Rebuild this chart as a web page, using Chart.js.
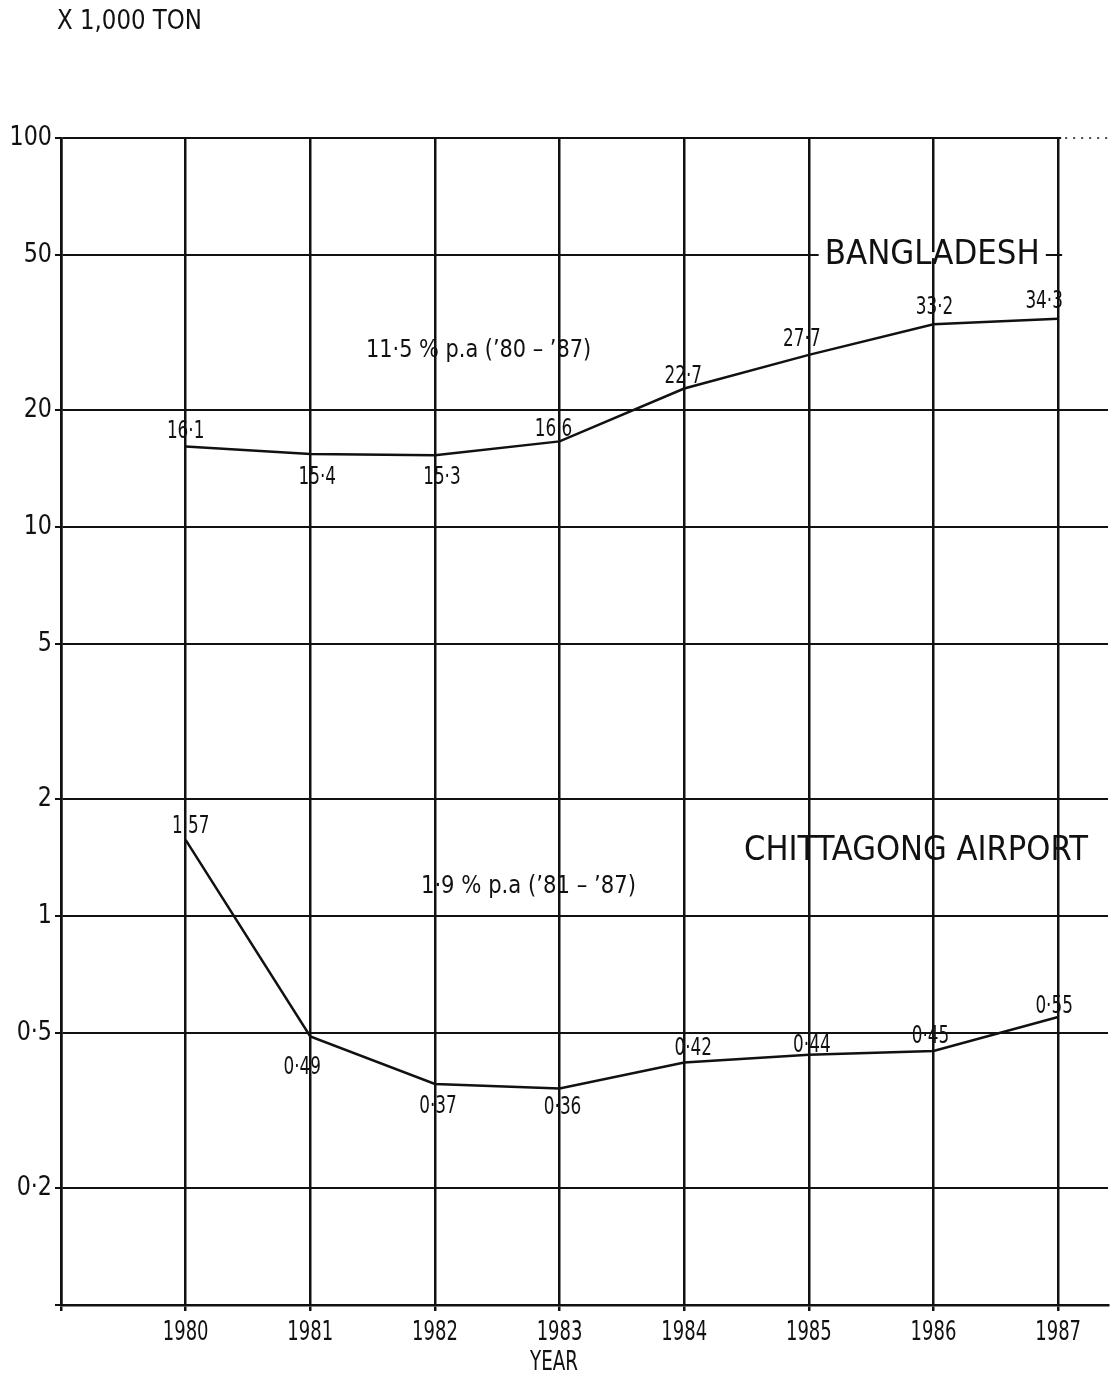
<!DOCTYPE html>
<html>
<head>
<meta charset="utf-8">
<script src="https://cdn.jsdelivr.net/npm/chart.js@4.4.1/dist/chart.umd.min.js"></script>
<style>
  html, body { margin: 0; padding: 0; background: #fff; }
  canvas { display: block; }
</style>
</head>
<body>
<canvas id="c" width="1110" height="1389"></canvas>
<script>
// Air cargo volume, thousand tons
const years = [1980, 1981, 1982, 1983, 1984, 1985, 1986, 1987];
const bangladesh = [16.1, 15.4, 15.3, 16.6, 22.7, 27.7, 33.2, 34.3];
const chittagong = [1.57, 0.49, 0.37, 0.36, 0.42, 0.44, 0.45, 0.55];
const yTicks = [0.1, 0.2, 0.5, 1, 2, 5, 10, 20, 50, 100];
const xTicks = [1979, 1980, 1981, 1982, 1983, 1984, 1985, 1986, 1987];

const FONT = '"DejaVu Sans Condensed", "Liberation Sans Narrow", "DejaVu Sans", sans-serif';
const INK = '#111';

// pixel nudges for each value label (dx, dy from its point)
const labelNudge = [
  [[0, -15], [7, 24], [7, 23], [-6, -12], [-1, -12], [-7, -15], [1, -17], [-14, -17]],
  [[5, -13], [-8, 31], [3, 23], [3, 19], [9, -14], [3, -9], [-3, -14], [-4, -10]]
];

// free text notes placed in data coordinates
const notes = [
  { text: 'BANGLADESH', x: 1985.99, y: 50, size: 34, width: 215, bg: true },
  { text: '11·5 % p.a (\u201980 \u2013 \u201987)', x: 1982.35, y: 28.5, size: 25, width: 225 },
  { text: 'CHITTAGONG AIRPORT', x: 1985.86, y: 1.47, size: 34, width: 344 },
  { text: '1·9 % p.a (\u201981 \u2013 \u201987)', x: 1982.75, y: 1.19, size: 25, width: 215 }
];

const fmt = v => String(v).replace('.', '·');

// draws text with an optional fixed width (or horizontal squeeze factor)
function drawText(ctx, text, x, y, o) {
  ctx.save();
  ctx.font = o.size + 'px ' + FONT;
  const w = ctx.measureText(text).width;
  const sx = o.width ? o.width / w : (o.sx || 1);
  ctx.translate(x, y);
  ctx.scale(sx, 1);
  const align = o.align || 'center';
  const left = align === 'left' ? 0 : align === 'right' ? -w : -w / 2;
  if (o.bg) {
    ctx.fillStyle = '#fff';
    ctx.fillRect(left - 6, -3, w + 12, 6);
  }
  ctx.fillStyle = INK;
  ctx.textAlign = align;
  ctx.textBaseline = 'middle';
  ctx.fillText(text, 0, 0);
  ctx.restore();
}

const textLayer = {
  id: 'textLayer',
  afterDraw(chart) {
    const ctx = chart.ctx;
    const xs = chart.scales.x, ys = chart.scales.y;
    const area = chart.chartArea;

    // top rule turns dotted past the last year
    const yTop = ys.getPixelForValue(100);
    const xEnd = xs.getPixelForValue(1987) + 3;
    ctx.save();
    ctx.fillStyle = '#fff';
    ctx.fillRect(xEnd, yTop - 2, area.right - xEnd + 4, 4);
    ctx.strokeStyle = INK;
    ctx.lineWidth = 1.5;
    ctx.setLineDash([2, 6]);
    ctx.beginPath();
    ctx.moveTo(xEnd + 4, yTop);
    ctx.lineTo(area.right + 2, yTop);
    ctx.stroke();
    // the 50 line stops at the last year
    const y50 = ys.getPixelForValue(50);
    ctx.fillRect(xEnd + 1, y50 - 2, area.right - xEnd + 4, 4);
    ctx.restore();

    // axis tick labels
    xs.ticks.forEach(t => {
      if (t.value < 1980) return;
      drawText(ctx, String(t.value), xs.getPixelForValue(t.value), area.bottom + 28, { size: 26, sx: 0.77 });
    });
    ys.ticks.forEach(t => {
      if (t.value === 0.1) return;
      drawText(ctx, fmt(t.value), area.left - 9, ys.getPixelForValue(t.value), { size: 26, sx: 0.95, align: 'right' });
    });

    // value labels
    chart.data.datasets.forEach((ds, di) => {
      const meta = chart.getDatasetMeta(di);
      meta.data.forEach((pt, i) => {
        const [dx, dy] = labelNudge[di][i];
        drawText(ctx, fmt(ds.data[i].y), pt.x + dx, pt.y + dy, { size: 24, sx: 0.78 });
      });
    });

    notes.forEach(n => {
      drawText(ctx, n.text, xs.getPixelForValue(n.x), ys.getPixelForValue(n.y), n);
    });

    drawText(ctx, 'X 1,000 TON', 57, 22, { size: 26, width: 145, align: 'left' });
    drawText(ctx, 'YEAR', 554, 1363, { size: 26, width: 48 });
  }
};

new Chart(document.getElementById('c'), {
  type: 'line',
  data: {
    datasets: [
      {
        label: 'BANGLADESH',
        data: years.map((x, i) => ({ x, y: bangladesh[i] })),
        borderColor: INK, borderWidth: 2.5, pointRadius: 0, tension: 0, fill: false
      },
      {
        label: 'CHITTAGONG AIRPORT',
        data: years.map((x, i) => ({ x, y: chittagong[i] })),
        borderColor: INK, borderWidth: 2.5, pointRadius: 0, tension: 0, fill: false
      }
    ]
  },
  options: {
    responsive: false,
    animation: false,
    devicePixelRatio: 1,
    layout: { padding: { top: 138, right: 2, left: 0, bottom: 0 } },
    plugins: { legend: { display: false }, tooltip: { enabled: false } },
    scales: {
      x: {
        type: 'linear', min: 1979, max: 1987.4,
        afterBuildTicks: s => { s.ticks = xTicks.map(v => ({ value: v })); },
        afterFit: s => { s.height = 84; },
        ticks: {
          callback: v => (v >= 1980 ? String(v) : ''),
          font: { family: FONT, size: 22 }, color: 'rgba(0,0,0,0)', padding: 8,
          maxRotation: 0, autoSkip: false
        },
        grid: { color: INK, lineWidth: 2.5, tickLength: 6 },
        border: { color: INK, width: 2.5 }
      },
      y: {
        type: 'logarithmic', min: 0.1, max: 100,
        afterBuildTicks: s => { s.ticks = yTicks.map(v => ({ value: v })); },
        afterFit: s => { s.width = 61; },
        ticks: {
          callback: v => (v === 0.1 ? '' : fmt(v)),
          font: { family: FONT, size: 24 }, color: 'rgba(0,0,0,0)', padding: 3, autoSkip: false
        },
        grid: { color: INK, lineWidth: 2, tickLength: 6 },
        border: { color: INK, width: 2.5 }
      }
    }
  },
  plugins: [textLayer]
});
</script>
</body>
</html>
